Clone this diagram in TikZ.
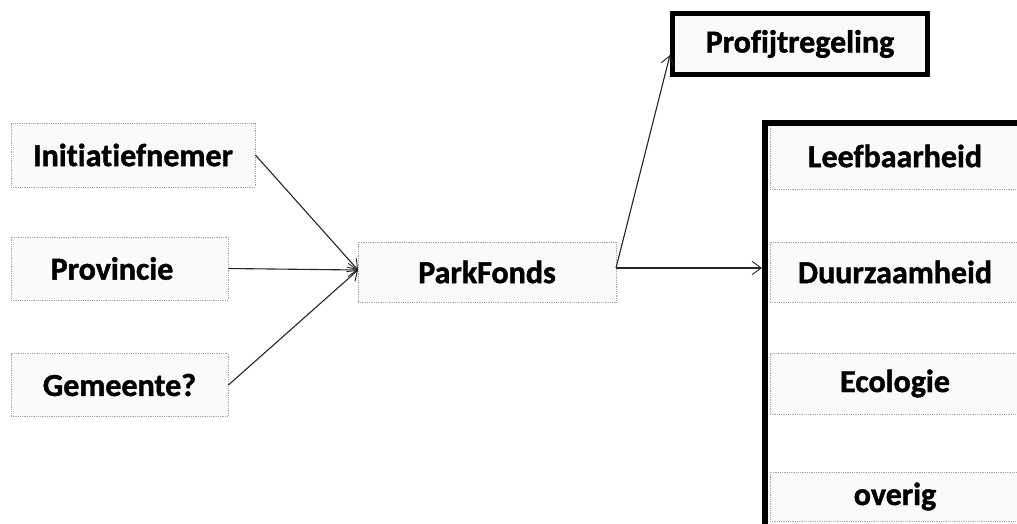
\documentclass[tikz,border=0pt]{standalone}
\usepackage{fontspec}
\setmainfont{Carlito}[Ligatures=NoCommon, BoldFeatures={FakeBold=1.3}]
\usetikzlibrary{arrows.meta}
\begin{document}
\begin{tikzpicture}[x=1pt,y=1pt,
  lbl/.style={font=\fontsize{32}{36}\selectfont\bfseries, text=black},
  src/.style={lbl, draw=gray!70, line width=0.8pt, densely dotted, fill=gray!4, inner sep=0pt},
  rowbox/.style={lbl, draw=gray!70, line width=0.8pt, densely dotted, fill=gray!4, inner sep=0pt, minimum width=250pt},
  conn/.style={draw=black!85, line width=1.1pt, -{Straight Barb[length=9pt,width=13pt,line width=0.9pt]}}
]
\useasboundingbox (0,0) rectangle (1017,-523);
\clip (0,0) rectangle (1017,-523);
\fill[white] (0,0) rectangle (1017,-523);
% left sources
\node[src, minimum width=244pt, minimum height=64pt] (init) at (133,-155) {Initiatiefnemer};
\node[src, minimum width=217pt, minimum height=63pt] (prov) at (119.5,-268.5) {Provincie\hspace*{15pt}};
\node[src, minimum width=217pt, minimum height=63pt] (gem) at (119.5,-385) {Gemeente?};
% centre
\node[src, minimum width=258pt, minimum height=60pt] (park) at (487,-272) {ParkFonds};
% Profijtregeling
\node[lbl, draw=black, line width=5pt, fill=gray!4, minimum width=255pt, minimum height=61pt, inner sep=0pt] (prof) at (800,-44) {Profijtregeling};
% right column rows
\node[rowbox, minimum height=66pt] (leef) at (895,-156) {Leefbaarheid};
\node[rowbox, minimum height=60pt] (duur) at (895,-272) {Duurzaamheid};
\node[rowbox, minimum height=61pt] (eco) at (895,-383.5) {Ecologie};
\node[rowbox, minimum height=49pt] (ove) at (895,-496.5) {overig};
% thick frame of right column
\coordinate (colTL) at (765,-123);
\coordinate (colBL) at (765,-530);
\coordinate (colTR) at (1025,-123);
\draw[black, line width=6pt] (colBL) -- (colTL) -- (colTR);
\coordinate (colIn) at (765,-268);
% connectors
\coordinate (parkIn) at (358,-270);
\coordinate (parkOut) at (616,-268);
\draw[conn] (init.east) -- (parkIn);
\draw[conn] (prov.east) -- (parkIn);
\draw[conn] (gem.east) -- (parkIn);
\draw[conn] (parkOut) -- ([yshift=-11pt]prof.west);
\draw[conn] (parkOut) -- ([xshift=-3pt]colIn);
\end{tikzpicture}
\end{document}
